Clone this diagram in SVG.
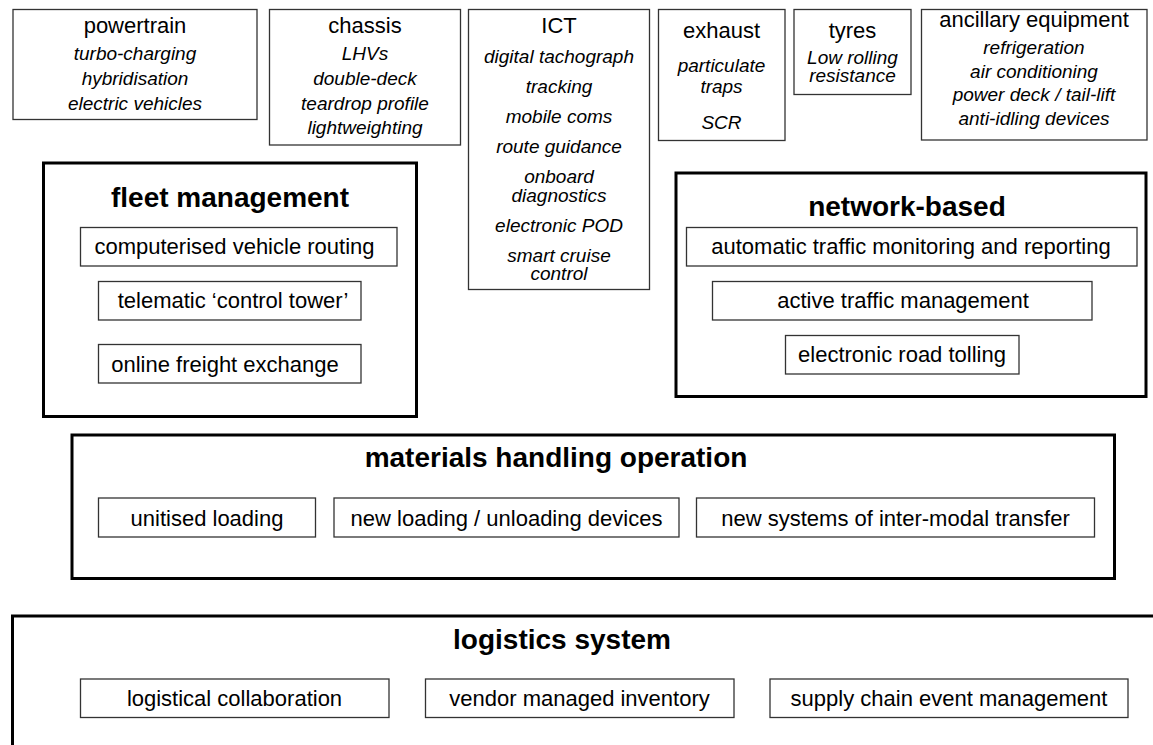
<svg xmlns="http://www.w3.org/2000/svg" width="1153" height="745" viewBox="0 0 1153 745">
<style>
.bg{fill:#fff}
.sb{fill:#fff;stroke:#333;stroke-width:1.3}
.lb{fill:none;stroke:#000;stroke-width:3}
text{font-family:"Liberation Sans",Arial,sans-serif;fill:#000;text-anchor:middle}
.h{font-size:22px}
.i{font-size:19px;font-style:italic}
.t{font-size:28px;font-weight:bold}
.r{font-size:22px}
</style>
<rect class="bg" x="0" y="0" width="1153" height="745"/>
<g id="powertrain">
<rect class="sb" x="13" y="9.5" width="244" height="110"/>
<text class="h" x="135" y="33">powertrain</text>
<text class="i" x="135" y="60">turbo-charging</text>
<text class="i" x="135" y="84.5">hybridisation</text>
<text class="i" x="135" y="110">electric vehicles</text>
</g>
<g id="chassis">
<rect class="sb" x="269.5" y="9.5" width="191" height="135.5"/>
<text class="h" x="365" y="33">chassis</text>
<text class="i" x="365" y="60">LHVs</text>
<text class="i" x="365" y="84.5">double-deck</text>
<text class="i" x="365" y="110">teardrop profile</text>
<text class="i" x="365" y="134">lightweighting</text>
</g>
<g id="ict">
<rect class="sb" x="468.5" y="9.5" width="181" height="280"/>
<text class="h" x="559" y="33">ICT</text>
<text class="i" x="559" y="63">digital tachograph</text>
<text class="i" x="559" y="93">tracking</text>
<text class="i" x="559" y="123">mobile coms</text>
<text class="i" x="559" y="153">route guidance</text>
<text class="i" x="559" y="183">onboard</text>
<text class="i" x="559" y="201.5">diagnostics</text>
<text class="i" x="559" y="232">electronic POD</text>
<text class="i" x="559" y="262">smart cruise</text>
<text class="i" x="559" y="279.5">control</text>
</g>
<g id="exhaust">
<rect class="sb" x="658.5" y="9.5" width="126.5" height="131"/>
<text class="h" x="721.5" y="38">exhaust</text>
<text class="i" x="721.5" y="72">particulate</text>
<text class="i" x="721.5" y="93">traps</text>
<text class="i" x="721.5" y="128.5">SCR</text>
</g>
<g id="tyres">
<rect class="sb" x="794" y="9.5" width="117" height="85"/>
<text class="h" x="852.5" y="38">tyres</text>
<text class="i" x="852.5" y="63.5">Low rolling</text>
<text class="i" x="852.5" y="82">resistance</text>
</g>
<g id="ancillary">
<rect class="sb" x="921.5" y="9.5" width="225.5" height="130.5"/>
<text class="h" x="1034" y="27">ancillary equipment</text>
<text class="i" x="1034" y="53.5">refrigeration</text>
<text class="i" x="1034" y="77.5">air conditioning</text>
<text class="i" x="1034" y="101">power deck / tail-lift</text>
<text class="i" x="1034" y="125">anti-idling devices</text>
</g>
<g id="fleet-management">
<rect class="lb" x="43.5" y="163" width="373" height="253.5"/>
<text class="t" x="230" y="207">fleet management</text>
<rect class="sb" x="80.5" y="227.5" width="316.5" height="38.5"/>
<text class="r" x="234.5" y="254">computerised vehicle routing</text>
<rect class="sb" x="98.5" y="281.5" width="262.5" height="38.5"/>
<text class="r" x="233" y="308">telematic ‘control tower’</text>
<rect class="sb" x="98.5" y="344.5" width="262.5" height="38.5"/>
<text class="r" x="225" y="371.5">online freight exchange</text>
</g>
<g id="network-based">
<rect class="lb" x="676" y="173" width="470" height="223.5"/>
<text class="t" x="907" y="215.5">network-based</text>
<rect class="sb" x="686.5" y="227.5" width="450.5" height="38.5"/>
<text class="r" x="911" y="254">automatic traffic monitoring and reporting</text>
<rect class="sb" x="712.5" y="281.5" width="379.5" height="38.5"/>
<text class="r" x="903" y="308">active traffic management</text>
<rect class="sb" x="785.5" y="335.5" width="233.5" height="38.5"/>
<text class="r" x="902" y="362">electronic road tolling</text>
</g>
<g id="materials-handling">
<rect class="lb" x="72" y="435" width="1042.5" height="143.5"/>
<text class="t" x="556" y="467">materials handling operation</text>
<rect class="sb" x="98.5" y="498" width="217" height="39"/>
<text class="r" x="207" y="526">unitised loading</text>
<rect class="sb" x="334" y="498" width="345" height="39"/>
<text class="r" x="506.5" y="526">new loading / unloading devices</text>
<rect class="sb" x="696.5" y="498" width="398" height="39"/>
<text class="r" x="895.5" y="526">new systems of inter-modal transfer</text>
</g>
<g id="logistics-system">
<path class="lb" d="M12.5 746 V616 H1155"/>
<text class="t" x="562" y="649">logistics system</text>
<rect class="sb" x="80.5" y="679" width="308.5" height="38.5"/>
<text class="r" x="234.5" y="706">logistical collaboration</text>
<rect class="sb" x="425.5" y="679" width="308.5" height="38.5"/>
<text class="r" x="579.5" y="706">vendor managed inventory</text>
<rect class="sb" x="770" y="679" width="358" height="38.5"/>
<text class="r" x="949" y="706">supply chain event management</text>
</g>
<g id="connectors"></g>
</svg>
